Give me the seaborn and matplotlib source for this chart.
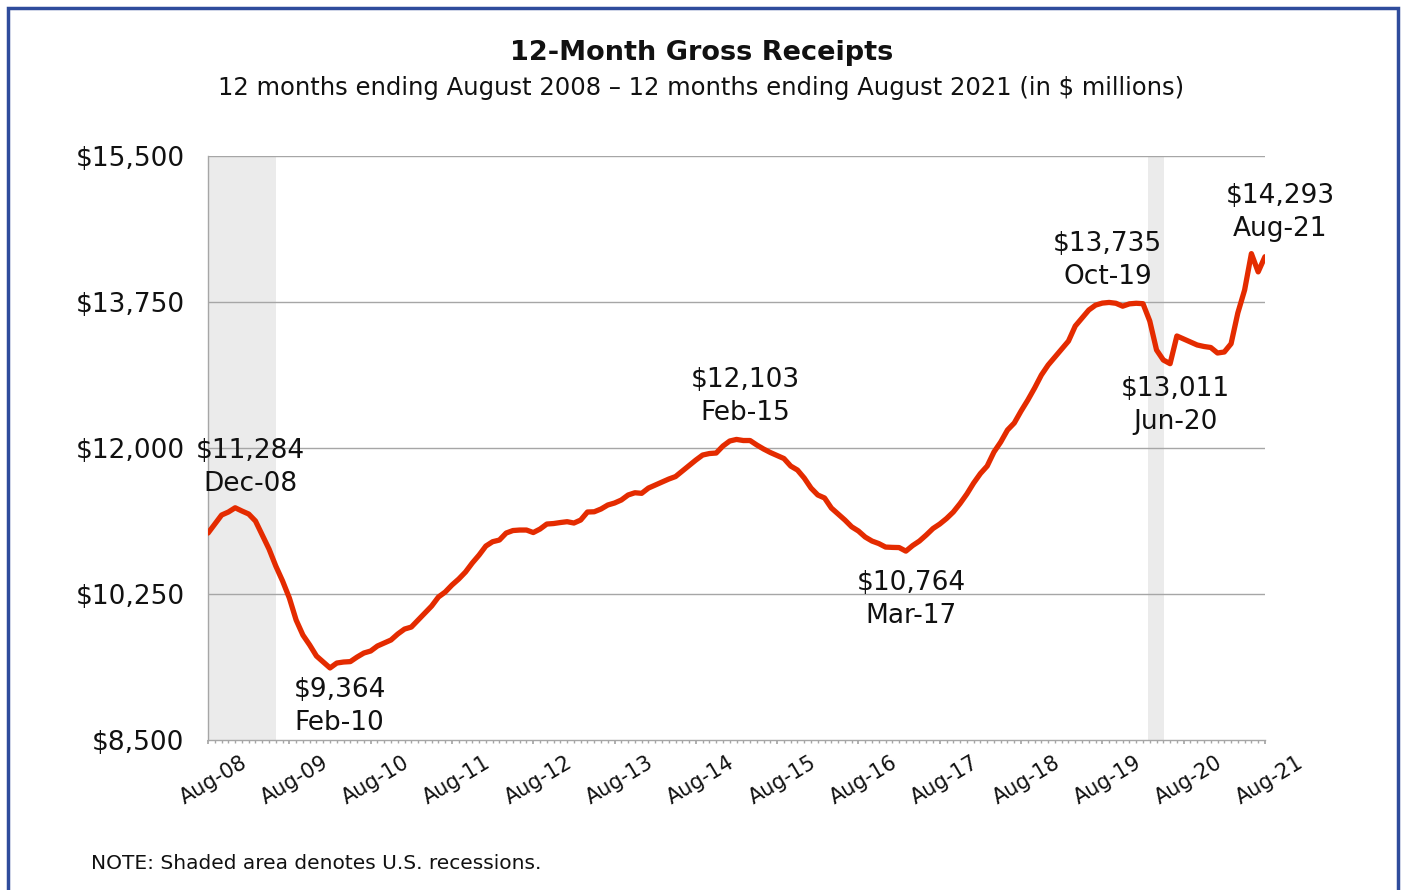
import matplotlib
matplotlib.use("Agg")
import matplotlib.pyplot as plt
import seaborn as sns
import pandas as pd
import numpy as np
from matplotlib.patches import Rectangle

# ---------------- data ----------------
# monthly 12-month gross receipts, Aug-08 .. Aug-21 ($ millions)
receipts = [
    10981, 11089, 11197, 11233, 11284, 11245, 11209, 11125, 10957, 10789,
    10585, 10406, 10202, 9938, 9758, 9639, 9507, 9435, 9364, 9423,
    9435, 9440, 9495, 9543, 9567, 9627, 9663, 9699, 9771, 9830,
    9854, 9938, 10022, 10106, 10214, 10274, 10358, 10430, 10514, 10622,
    10717, 10825, 10877, 10897, 10981, 11011, 11017, 11017, 10987, 11029,
    11089, 11095, 11107, 11117, 11101, 11137, 11233, 11236, 11269, 11317,
    11341, 11377, 11437, 11464, 11457, 11520, 11556, 11592, 11628, 11658,
    11724, 11790, 11856, 11916, 11934, 11940, 12024, 12084, 12103, 12090,
    12090, 12036, 11988, 11946, 11910, 11874, 11784, 11736, 11640, 11520,
    11437, 11401, 11281, 11209, 11137, 11056, 11005, 10933, 10885, 10855,
    10813, 10809, 10807, 10764, 10831, 10885, 10957, 11035, 11089, 11155,
    11233, 11335, 11449, 11580, 11694, 11784, 11952, 12072, 12216, 12300,
    12443, 12575, 12719, 12875, 12995, 13091, 13187, 13282, 13462, 13558,
    13654, 13713, 13737, 13745, 13735, 13700, 13728, 13735, 13730, 13522,
    13175, 13055, 13011, 13343, 13307, 13271, 13235, 13217, 13205, 13139,
    13151, 13250, 13620, 13894, 14330, 14111, 14293,
]
months = pd.date_range("2008-08-01", "2021-08-01", freq="MS")
month_labels = [d.strftime("%b-%y") for d in months]

y_ticks = [8500, 10250, 12000, 13750, 15500]
y_tick_labels = ["$8,500", "$10,250", "$12,000", "$13,750", "$15,500"]

# recession shading, in month-index units
recession_spans = [(0.0, 10.0), (138.75, 141.1)]

# labelled points: (month label, label value, offset in points)
callouts = [
    ("Dec-08", "$11,284", (11, 29)),
    ("Feb-10", "$9,364", (7, -28)),
    ("Feb-15", "$12,103", (6, 31)),
    ("Mar-17", "$10,764", (4, -35)),
    ("Oct-19", "$13,735", (-6, 31)),
    ("Jun-20", "$13,011", (4, -30)),
    ("Aug-21", "$14,293", (11, 32)),
]

title = "12-Month Gross Receipts"
subtitle = "12 months ending August 2008 \u2013 12 months ending August 2021 (in $ millions)"
note = "NOTE: Shaded area denotes U.S. recessions."

# ---------------- plot ----------------
sns.set_theme(style="white")
plt.rcParams["font.family"] = ["DejaVu Sans"]

df = pd.DataFrame({"idx": np.arange(len(receipts)), "value": receipts})

fig = plt.figure(figsize=(14.03, 8.90), dpi=100)
ax = fig.add_axes([0.1483, 0.1685, 0.9016 - 0.1483, 0.8247 - 0.1685])

for a, b in recession_spans:
    ax.axvspan(a, b, color="#EBEBEB", zorder=0, lw=0)

for t in y_ticks[1:]:
    ax.axhline(t, color="#A6A6A6", lw=1.0, zorder=1)

sns.lineplot(data=df, x="idx", y="value", ax=ax, color="#E42B00", lw=3.8,
             zorder=3, legend=False)

ax.set_xlim(0, len(receipts) - 1)
ax.set_ylim(y_ticks[0], y_ticks[-1])
ax.set_yticks(y_ticks)
ax.set_yticklabels(y_tick_labels, fontsize=19, color="#111111")
major = list(range(0, len(receipts), 12))
ax.set_xticks(major)
ax.set_xticklabels([month_labels[i] for i in major], rotation=31,
                   ha="center", va="top", fontsize=15, rotation_mode="anchor",
                   color="#111111")
ax.set_xticks(range(len(receipts)), minor=True)
ax.tick_params(axis="x", which="major", length=3, color="#A6A6A6", pad=20,
               bottom=True)
ax.tick_params(axis="x", which="minor", length=2.5, color="#A6A6A6", bottom=True)
ax.tick_params(axis="y", length=0, pad=17)
ax.set_xlabel("")
ax.set_ylabel("")
for s in ["top", "right"]:
    ax.spines[s].set_visible(False)
for s in ["left", "bottom"]:
    ax.spines[s].set_color("#A6A6A6")
    ax.spines[s].set_linewidth(1.0)

for lab, txt, off in callouts:
    i = month_labels.index(lab)
    ax.annotate(f"{txt}\n{lab}", xy=(i, receipts[i]), xytext=off,
                textcoords="offset points", ha="center", va="center",
                fontsize=19, linespacing=1.36, color="#111111", zorder=5)

fig.text(0.5, 0.940, title, ha="center", va="center", fontsize=19.5,
         fontweight="bold", color="#111111")
fig.text(0.5, 0.901, subtitle, ha="center", va="center", fontsize=17.5,
         color="#111111")
fig.text(0.065, 0.030, note, ha="left", va="center", fontsize=14.5,
         color="#111111")

fig.patches.append(Rectangle((8 / 1403, -0.05), 1 - 13 / 1403, 1.05 - 8 / 890,
                             transform=fig.transFigure, fill=False,
                             edgecolor="#2F4C9C", lw=2.5, zorder=10))

fig.savefig("out.png", dpi=100, facecolor="white")
